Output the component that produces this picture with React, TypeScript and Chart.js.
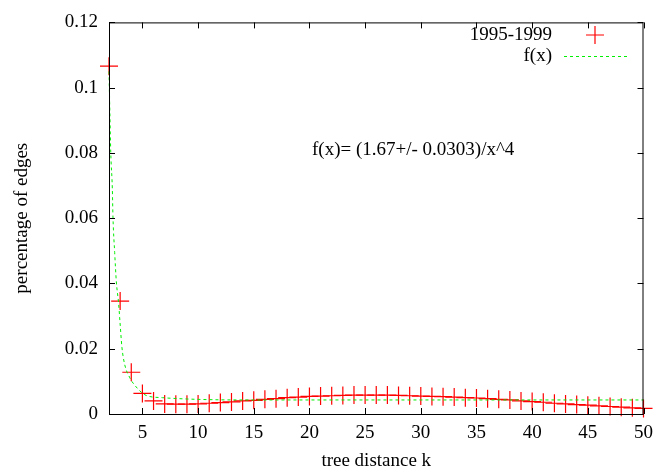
import { useEffect, useRef } from 'react';
import { Chart, registerables } from 'chart.js';

Chart.register(...registerables);

const xTicks = [5, 10, 15, 20, 25, 30, 35, 40, 45, 50];
const yTicks = [0, 0.02, 0.04, 0.06, 0.08, 0.1, 0.12];

const seriesLabel = '1995-1999';
const fitLabel = 'f(x)';
const fitText = 'f(x)= (1.67+/- 0.0303)/x^4';
const xTitle = 'tree distance k';
const yTitle = 'percentage of edges';

const distK = [
  2, 3, 4, 5, 6, 7, 8, 9, 10, 11, 12, 13, 14, 15, 16, 17, 18, 19, 20, 21, 22, 23, 24, 25, 26,
  27, 28, 29, 30, 31, 32, 33, 34, 35, 36, 37, 38, 39, 40, 41, 42, 43, 44, 45, 46, 47, 48, 49, 50,
];
const pct1995 = [
  0.1066, 0.0346, 0.0128, 0.0063, 0.004, 0.0031, 0.003, 0.003, 0.0031, 0.0033, 0.0035, 0.0037,
  0.004, 0.0042, 0.0045, 0.0047, 0.005, 0.0052, 0.0054, 0.0055, 0.0056, 0.0057, 0.0058, 0.0058,
  0.0058, 0.0058, 0.0057, 0.0056, 0.0055, 0.0054, 0.0053, 0.0052, 0.005, 0.0049, 0.0047, 0.0045,
  0.0043, 0.004, 0.0038, 0.0036, 0.0033, 0.0031, 0.0029, 0.0027, 0.0025, 0.0023, 0.0021, 0.0019,
  0.0017,
];

const fitX = [2, 2.08, 2.16, 2.3, 2.36, 2.51, 2.66, 2.86, 2.98, 3.16, 3.4, 3.84, 4.44, 5.33, 6.8, 8.3, 11, 15, 20, 30, 40, 50];
const fitY = [0.105, 0.092, 0.08, 0.069, 0.06, 0.0495, 0.0405, 0.034, 0.0285, 0.0205, 0.0153, 0.0113, 0.0083, 0.0057, 0.005, 0.0047, 0.0044, 0.0043, 0.0043, 0.0043, 0.0043, 0.0043];

const RED = '#ff0000';
const GREEN = '#00ee00';
const FONT = '"Liberation Serif", "DejaVu Serif", serif';
const FS = 19;

const framePlugin = {
  id: 'gnuFrame',
  afterDraw(chart: any) {
    const { ctx, chartArea } = chart;
    const { left, right, top, bottom } = chartArea;
    const xs = chart.scales.x;
    const ys = chart.scales.y;
    ctx.save();
    ctx.strokeStyle = '#000';
    ctx.lineWidth = 1;
    ctx.setLineDash([]);
    ctx.strokeRect(left + 0.5, top + 0.5, right - left - 1, bottom - top);
    const tl = 6;
    ctx.beginPath();
    xTicks.forEach((v) => {
      const px = Math.round(xs.getPixelForValue(v)) + 0.5;
      ctx.moveTo(px, bottom);
      ctx.lineTo(px, bottom - tl);
      ctx.moveTo(px, top);
      ctx.lineTo(px, top + tl);
    });
    yTicks.forEach((v) => {
      const py = Math.round(ys.getPixelForValue(v)) + 0.5;
      ctx.moveTo(left, py);
      ctx.lineTo(left + tl, py);
      ctx.moveTo(right, py);
      ctx.lineTo(right - tl, py);
    });
    ctx.stroke();

    // legend
    ctx.font = `${FS}px ${FONT}`;
    ctx.fillStyle = '#000';
    ctx.textAlign = 'right';
    ctx.textBaseline = 'middle';
    ctx.fillText(seriesLabel, 552, 35);
    ctx.fillText(fitLabel, 552, 56);
    ctx.strokeStyle = RED;
    ctx.lineWidth = 1.2;
    ctx.beginPath();
    ctx.moveTo(586, 35);
    ctx.lineTo(604, 35);
    ctx.moveTo(595, 26);
    ctx.lineTo(595, 44);
    ctx.stroke();
    ctx.lineWidth = 1;
    ctx.strokeStyle = GREEN;
    ctx.setLineDash([3, 3]);
    ctx.beginPath();
    ctx.moveTo(564, 56.5);
    ctx.lineTo(627, 56.5);
    ctx.stroke();
    ctx.setLineDash([]);

    // fit annotation
    ctx.textAlign = 'left';
    ctx.fillText(fitText, 312, 150);
    ctx.restore();
  },
};

export default function App() {
  const ref = useRef<HTMLCanvasElement>(null);

  useEffect(() => {
    if (!ref.current) return;
    Chart.defaults.font.family = FONT;
    Chart.defaults.color = '#000';
    const chart = new Chart(ref.current, {
      type: 'line',
      data: {
        datasets: [
          {
            label: fitLabel,
            data: fitX.map((x, i) => ({ x, y: fitY[i] })),
            borderColor: GREEN,
            borderWidth: 1,
            borderDash: [3, 3],
            pointRadius: 0,
            cubicInterpolationMode: 'monotone',
            fill: false,
            order: 0,
            clip: false as any,
          },
          {
            label: seriesLabel,
            data: distK.map((x, i) => ({ x, y: pct1995[i] })),
            borderColor: RED,
            showLine: false,
            pointStyle: 'cross',
            pointRadius: 9,
            pointBorderWidth: 1.2,
            pointBorderColor: RED,
            pointBackgroundColor: RED,
            fill: false,
            order: 1,
            clip: false as any,
          },
        ],
      },
      options: {
        animation: false,
        responsive: false,
        layout: { padding: { top: 17, right: 12, left: 0, bottom: 0 } },
        plugins: { legend: { display: false }, tooltip: { enabled: false } },
        scales: {
          x: {
            type: 'linear',
            min: 2,
            max: 50,
            grid: { display: false, drawTicks: false },
            border: { display: false },
            afterBuildTicks: (s: any) => {
              s.ticks = xTicks.map((v) => ({ value: v }));
            },
            afterFit: (s: any) => {
              s.height = 59;
            },
            ticks: { font: { size: FS }, padding: 8, maxRotation: 0, autoSkip: false },
            title: { display: true, text: xTitle, font: { size: FS }, padding: { top: 0, bottom: 1 } },
          },
          y: {
            type: 'linear',
            min: 0,
            max: 0.12,
            grid: { display: false, drawTicks: false },
            border: { display: false },
            afterBuildTicks: (s: any) => {
              s.ticks = yTicks.map((v) => ({ value: v }));
            },
            afterFit: (s: any) => {
              s.width = 109;
            },
            ticks: {
              font: { size: FS },
              padding: 11,
              autoSkip: false,
              callback: (v: any) => String(Number(v)),
            },
            title: { display: true, text: yTitle, font: { size: FS }, padding: { top: 11, bottom: 0 } },
          },
        },
      },
      plugins: [framePlugin],
    });
    return () => chart.destroy();
  }, []);

  return (
    <div style={{ position: 'fixed', left: 0, top: 0, width: 661, height: 473, background: '#fff' }}>
      <canvas ref={ref} width={661} height={473} />
    </div>
  );
}
